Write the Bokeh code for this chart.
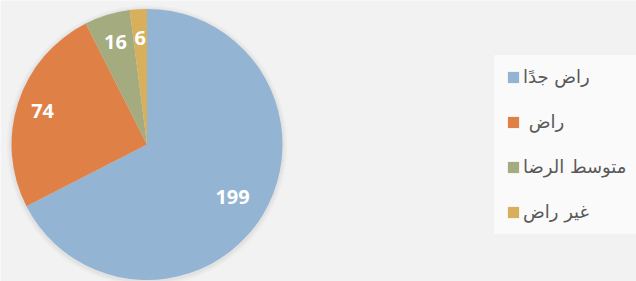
import math
from bokeh.plotting import figure
from bokeh.models import Range1d, Legend, LegendItem, BoxAnnotation, ColumnDataSource
from bokeh.core.properties import value
from bokeh.embed import file_html
from bokeh.resources import INLINE

# ---- data ----
categories = ["راض جدًا", " راض", "متوسط الرضا", "غير راض"]
counts = [199, 74, 16, 6]
colors = ["#94B4D4", "#DF8146", "#A3AB7F", "#D8AF5B"]
label_radius = [0.74, 0.81, 0.79, 0.79]

W, H = 636, 281
cx, cy, R = 146.5, 137.0, 135.5

total = float(sum(counts))
starts, ends, lx, ly = [], [], [], []
acc = 0.0
for v, f in zip(counts, label_radius):
    a0 = math.pi / 2 - 2 * math.pi * acc / total
    a1 = math.pi / 2 - 2 * math.pi * (acc + v) / total
    mid = (a0 + a1) / 2
    starts.append(a0)
    ends.append(a1)
    lx.append(cx + f * R * math.cos(mid))
    ly.append(cy + f * R * math.sin(mid))
    acc += v

src = ColumnDataSource(dict(cat=categories, val=counts, color=colors,
                            start=starts, end=ends, lx=lx, ly=ly,
                            txt=[str(v) for v in counts]))

p = figure(width=W, height=H, x_range=Range1d(0, W), y_range=Range1d(0, H),
           output_backend="svg", toolbar_location=None, min_border=0)
p.axis.visible = False
p.grid.visible = False
p.outline_line_color = None
p.background_fill_color = "#F2F2F2"
p.border_fill_color = "#F2F2F2"

# soft shadow around pie
for k, a in [(5, 0.03), (3.5, 0.04), (2, 0.06)]:
    p.circle(x=cx, y=cy - 1, radius=R + k, fill_color="#7F7F7F", fill_alpha=a, line_color=None)

# legend box
p.add_layout(BoxAnnotation(left=493, right=W + 5, bottom=47, top=227,
                           fill_color="#FAFAFA", fill_alpha=1.0, line_color="#ECECEC",
                           line_alpha=0.5))

rend = p.wedge(x=cx, y=cy, radius=R, start_angle="start", end_angle="end",
               direction="clock", fill_color="color", line_color=None, source=src)

p.text(x="lx", y="ly", text="txt", source=src, text_color="white",
       text_font=value("Open Sans"), text_font_style="bold", text_font_size="20px",
       text_align="center", text_baseline="middle")

items = [LegendItem(label=c, renderers=[rend], index=i) for i, c in enumerate(categories)]
legend = Legend(items=items, location=(506, 58), orientation="vertical",
                padding=0, margin=0, spacing=22, label_height=23, glyph_height=14,
                glyph_width=14, label_standoff=3, border_line_color=None,
                background_fill_alpha=0, label_text_font="DejaVu Sans",
                label_text_font_size="18px", label_text_color="#595959")
p.add_layout(legend, "center")

open("out.html", "w").write(file_html(p, INLINE))
